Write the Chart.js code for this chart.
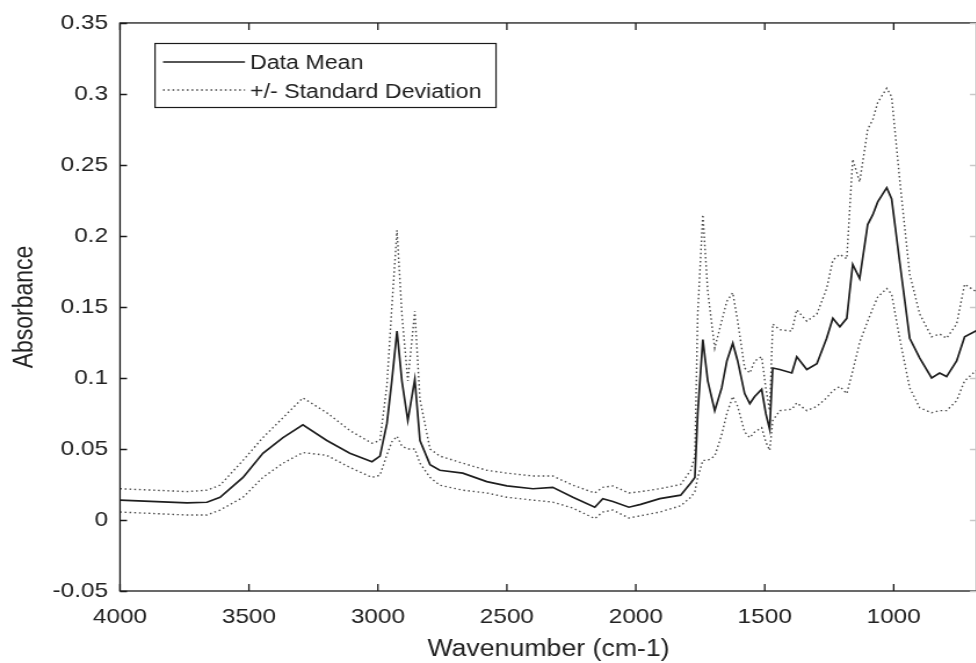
<!DOCTYPE html>
<html>
<head>
<meta charset="utf-8">
<script src="https://cdn.jsdelivr.net/npm/chart.js@4/dist/chart.umd.min.js"></script>
<style>
  html, body { margin: 0; padding: 0; background: #fff; overflow: hidden; width: 976px; height: 663px; }
  canvas { display: block; }
</style>
</head>
<body>
<canvas id="c" width="862" height="663" style="width:1000px;height:663px"></canvas>
<script>
// ---- data ----
const wavenumber = [4000,3740,3663,3612,3523,3446,3368,3291,3198,3109,3023,2992,2965,2946,2926,2907,2884,2857,2837,2798,2760,2671,2578,2500,2399,2322,2244,2159,2128,2089,2027,1981,1907,1826,1787,1771,1760,1740,1721,1694,1667,1647,1624,1605,1578,1558,1539,1512,1496,1481,1469,1442,1395,1376,1337,1298,1260,1236,1209,1182,1159,1132,1101,1081,1062,1027,1008,977,938,899,853,822,795,756,725,682,650];
const meanAbs = [0.014,0.012,0.0125,0.016,0.030,0.047,0.058,0.067,0.056,0.047,0.041,0.045,0.068,0.098,0.133,0.098,0.070,0.099,0.056,0.039,0.035,0.033,0.027,0.024,0.022,0.023,0.016,0.009,0.015,0.013,0.009,0.011,0.015,0.0175,0.026,0.030,0.075,0.127,0.098,0.077,0.093,0.112,0.1245,0.112,0.089,0.082,0.087,0.092,0.075,0.064,0.107,0.106,0.1035,0.115,0.106,0.110,0.128,0.142,0.136,0.142,0.180,0.170,0.208,0.215,0.224,0.234,0.226,0.182,0.128,0.114,0.100,0.1035,0.101,0.112,0.129,0.133,0.135];
const upperSD = [0.022,0.020,0.021,0.0245,0.042,0.058,0.072,0.086,0.0755,0.063,0.054,0.056,0.095,0.150,0.204,0.145,0.098,0.147,0.085,0.050,0.045,0.040,0.035,0.033,0.031,0.031,0.0245,0.019,0.023,0.024,0.019,0.020,0.022,0.025,0.035,0.045,0.145,0.215,0.161,0.121,0.140,0.154,0.160,0.140,0.107,0.1035,0.112,0.115,0.093,0.077,0.138,0.134,0.133,0.148,0.140,0.145,0.163,0.183,0.187,0.184,0.254,0.238,0.275,0.282,0.294,0.304,0.298,0.240,0.173,0.145,0.129,0.131,0.128,0.138,0.166,0.161,0.165];
const lowerSD = [0.0056,0.0035,0.0035,0.007,0.016,0.030,0.040,0.0475,0.0455,0.037,0.030,0.0315,0.046,0.055,0.059,0.052,0.050,0.050,0.040,0.030,0.0245,0.021,0.019,0.016,0.014,0.0126,0.0084,0.001,0.0056,0.007,0.0014,0.003,0.0056,0.010,0.016,0.020,0.030,0.042,0.042,0.045,0.060,0.075,0.087,0.080,0.062,0.058,0.062,0.065,0.055,0.049,0.070,0.077,0.078,0.0825,0.077,0.080,0.086,0.091,0.094,0.089,0.105,0.125,0.140,0.149,0.157,0.163,0.159,0.128,0.093,0.079,0.0755,0.077,0.077,0.084,0.098,0.105,0.107];
const xTicks = [4000,3500,3000,2500,2000,1500,1000];
const yTicks = [-0.05,0,0.05,0.1,0.15,0.2,0.25,0.3,0.35];
const seriesLabels = ['Data Mean', '+/- Standard Deviation'];
const xTitle = 'Wavenumber (cm-1)';
const yTitle = 'Absorbance';

// the reference picture is stretched horizontally; the canvas is drawn at
// 862 px wide and displayed 1000 px wide (factor K)
const K = 1000 / 862;
const FONT = '"Liberation Sans", Arial, Helvetica, sans-serif';
const pts = (ys) => wavenumber.map((w, i) => ({x: w, y: ys[i]}));

const framePlugin = {
  id: 'frame',
  afterDatasetsDraw(chart) {
    const {ctx, chartArea: a, scales: {x, y}} = chart;
    ctx.save();
    ctx.strokeStyle = '#1a1a1a';
    ctx.lineWidth = 1.3;
    ctx.strokeRect(a.left, a.top, a.right - a.left, a.bottom - a.top);
    const LV = 7, LH = 7 / K;
    ctx.beginPath();
    xTicks.forEach(v => {
      const px = x.getPixelForValue(v);
      ctx.moveTo(px, a.bottom); ctx.lineTo(px, a.bottom - LV);
      ctx.moveTo(px, a.top); ctx.lineTo(px, a.top + LV);
    });
    yTicks.forEach(v => {
      const py = Math.round(y.getPixelForValue(v)) + 0.5;
      ctx.moveTo(a.left, py); ctx.lineTo(a.left + LH, py);
    });
    ctx.stroke();
    ctx.strokeStyle = '#c8c8c8';
    ctx.beginPath();
    yTicks.forEach(v => {
      const py = Math.round(y.getPixelForValue(v)) + 0.5;
      ctx.moveTo(a.right, py); ctx.lineTo(a.right - LH, py);
    });
    ctx.stroke();

    // legend box
    const bx = 155 / K, by = 43, bw = 341 / K, bh = 64;
    ctx.fillStyle = '#fff';
    ctx.fillRect(bx, by, bw, bh);
    ctx.strokeStyle = '#1a1a1a';
    ctx.lineWidth = 1.2;
    ctx.strokeRect(bx, by + 0.5, bw, bh);
    const ds = chart.data.datasets;
    const rows = [{d: ds[0], y: 62, ty: 63.5}, {d: ds[1], y: 90, ty: 92}];
    ctx.font = '20px ' + FONT;
    ctx.textBaseline = 'middle';
    ctx.textAlign = 'left';
    rows.forEach(r => {
      ctx.beginPath();
      ctx.strokeStyle = r.d.borderColor;
      ctx.lineWidth = r.d.borderWidth;
      ctx.setLineDash(r.d.borderDash || []);
      ctx.moveTo(163 / K, r.y); ctx.lineTo(245 / K, r.y);
      ctx.stroke();
      ctx.setLineDash([]);
      ctx.fillStyle = '#222';
      ctx.fillText(r.d.label, 250 / K, r.ty);
    });
    ctx.restore();
  }
};

new Chart(document.getElementById('c'), {
  type: 'line',
  data: {
    datasets: [
      {label: seriesLabels[0], data: pts(meanAbs), borderColor: '#1e1e1e', borderWidth: 1.7, pointRadius: 0, tension: 0, fill: false},
      {label: seriesLabels[1], data: pts(upperSD), borderColor: '#4a4a4a', borderWidth: 1.4, borderDash: [1.5, 2.6], pointRadius: 0, tension: 0, fill: false},
      {label: seriesLabels[1] + ' (lower)', data: pts(lowerSD), borderColor: '#4a4a4a', borderWidth: 1.4, borderDash: [1.5, 2.6], pointRadius: 0, tension: 0, fill: false}
    ]
  },
  options: {
    responsive: false,
    animation: false,
    devicePixelRatio: 1,
    layout: {padding: {left: 0, top: 19, right: 862 - 977 / K, bottom: 0}},
    plugins: {legend: {display: false}, tooltip: {enabled: false}},
    scales: {
      x: {
        type: 'linear', reverse: true, min: 677, max: 4000,
        afterBuildTicks: s => { s.ticks = xTicks.map(v => ({value: v})); },
        afterFit: s => { s.height = 72; },
        grid: {display: false, drawTicks: false},
        border: {display: false},
        ticks: {padding: 14, color: '#222', font: {family: FONT, size: 21}, maxRotation: 0, autoSkip: false, callback: v => String(v)},
        title: {display: true, text: xTitle, color: '#222', font: {family: FONT, size: 23}, padding: {top: 0, bottom: 0}}
      },
      y: {
        type: 'linear', min: -0.05, max: 0.35,
        afterBuildTicks: s => { s.ticks = yTicks.map(v => ({value: v})); },
        afterFit: s => { s.width = 120 / K; },
        grid: {display: false, drawTicks: false},
        border: {display: false},
        ticks: {padding: 12 / K, color: '#222', font: {family: FONT, size: 21}, autoSkip: false, callback: v => String(parseFloat(Number(v).toFixed(2)))},
        title: {display: true, text: yTitle, color: '#222', font: {family: FONT, size: 23}, padding: {top: 8, bottom: 0}}
      }
    }
  },
  plugins: [framePlugin]
});
</script>
</body>
</html>
